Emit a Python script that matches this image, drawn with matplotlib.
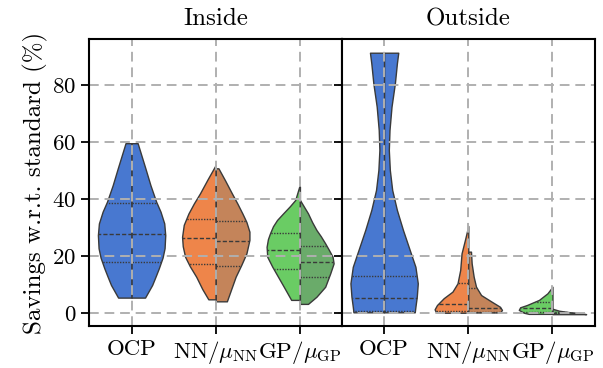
import numpy as np
import matplotlib
matplotlib.use("Agg")
import matplotlib.pyplot as plt

plt.rcParams['font.family'] = ['cmr10', 'DejaVu Serif']
plt.rcParams['mathtext.fontset'] = 'cm'
plt.rcParams['axes.unicode_minus'] = False
plt.rcParams['axes.formatter.use_mathtext'] = True

panels = ["Inside", "Outside"]
methods = ["OCP", r"NN/$\mu_{\mathrm{NN}}$", r"GP/$\mu_{\mathrm{GP}}$"]
ylabel = "Savings w.r.t. standard (%)"
yticks = [0, 20, 40, 60, 80]

# ---- violin outlines: value levels and relative half-widths ----
# Inside
in_ocp_y = [5.5, 7.6, 9.9, 12.8, 15.8, 19.5, 22.8, 27.4, 31.5, 35.6, 39.1, 44.9, 50.8, 59.6]
in_ocp_w = [0.40, 0.50, 0.61, 0.71, 0.81, 0.92, 0.98, 1.0, 0.97, 0.86, 0.73, 0.56, 0.41, 0.18]
in_ocp_q = [17.9, 27.8, 38.8]

in_nn_left_y = [4.9, 8.5, 12.8, 16.5, 19.8, 23.5, 26.8, 31.0, 35.0, 38.5, 42.0, 47.0, 52.0]
in_nn_left_w = [0.22, 0.40, 0.58, 0.77, 0.91, 0.98, 1.0, 0.95, 0.81, 0.65, 0.47, 0.24, 0.0]
in_nn_left_q = [17.3, 26.3, 33.0]
in_nn_right_y = [4.2, 8.5, 12.8, 17.0, 21.0, 25.7, 28.6, 32.0, 35.0, 38.5, 42.0, 46.5, 50.8]
in_nn_right_w = [0.33, 0.46, 0.59, 0.76, 0.91, 1.0, 1.0, 0.91, 0.79, 0.64, 0.48, 0.28, 0.08]
in_nn_right_q = [16.6, 25.4, 32.3]

in_gp_left_y = [4.7, 9.3, 12.8, 16.3, 19.8, 23.3, 26.0, 28.0, 30.5, 32.7, 35.0, 37.5, 39.7, 44.4]
in_gp_left_w = [0.26, 0.48, 0.65, 0.82, 0.97, 0.99, 0.95, 0.89, 0.80, 0.68, 0.50, 0.30, 0.14, 0.02]
in_gp_left_q = [15.4, 22.2, 28.2]
in_gp_right_y = [3.3, 5.8, 9.3, 14.0, 17.5, 19.8, 22.0, 24.5, 27.0, 29.2, 32.0, 35.0, 39.7]
in_gp_right_w = [0.24, 0.49, 0.75, 0.90, 1.0, 0.97, 0.87, 0.75, 0.62, 0.49, 0.36, 0.24, 0.0]
in_gp_right_q = [12.6, 18.1, 23.7]

# Outside
out_ocp_y = [0.35, 2.3, 5.8, 10.5, 16.3, 22.2, 29.2, 36.2, 43.2, 50.2, 57.2, 64.2, 72.4, 80.6, 87.6, 91.3]
out_ocp_w = [0.91, 0.93, 0.97, 1.0, 0.93, 0.76, 0.56, 0.38, 0.24, 0.17, 0.14, 0.16, 0.22, 0.32, 0.38, 0.42]
out_ocp_q = [0.8, 5.5, 13.2]

out_nn_left_y = [0.2, 0.6, 1.4, 2.9, 5.3, 7.6, 10.5, 15.2, 21.0, 25.7, 30.6]
out_nn_left_w = [0.93, 0.97, 1.0, 0.93, 0.73, 0.47, 0.32, 0.24, 0.20, 0.10, 0.0]
out_nn_left_q = [0.9, 3.3, 10.7]
out_nn_right_y = [0.3, 1.2, 2.3, 4.1, 6.4, 9.3, 12.8, 17.5, 21.6]
out_nn_right_w = [0.95, 1.0, 0.94, 0.69, 0.38, 0.23, 0.16, 0.10, 0.08]
out_nn_right_q = [0.6, 1.7, 9.0]

out_gp_left_y = [-0.2, 0.2, 1.2, 2.1, 2.9, 4.7, 7.0, 9.3]
out_gp_left_w = [0.70, 0.85, 1.0, 0.96, 0.76, 0.40, 0.15, 0.0]
out_gp_left_q = [0.3, 1.7, 4.1]
out_gp_right_y = [-0.3, 0.0, 0.4, 0.9, 1.6]
out_gp_right_w = [1.0, 0.85, 0.5, 0.2, 0.0]
out_gp_right_q = [0.05, 0.2, 0.5]

left_colors = ["#4878d0", "#ee854a", "#6acc64"]
right_colors = ["#4878d0", "#c4845a", "#6aab6a"]

data = {
    "Inside": [
        ((in_ocp_y, in_ocp_w, in_ocp_q), (in_ocp_y, in_ocp_w, in_ocp_q)),
        ((in_nn_left_y, in_nn_left_w, in_nn_left_q), (in_nn_right_y, in_nn_right_w, in_nn_right_q)),
        ((in_gp_left_y, in_gp_left_w, in_gp_left_q), (in_gp_right_y, in_gp_right_w, in_gp_right_q)),
    ],
    "Outside": [
        ((out_ocp_y, out_ocp_w, out_ocp_q), (out_ocp_y, out_ocp_w, out_ocp_q)),
        ((out_nn_left_y, out_nn_left_w, out_nn_left_q), (out_nn_right_y, out_nn_right_w, out_nn_right_q)),
        ((out_gp_left_y, out_gp_left_w, out_gp_left_q), (out_gp_right_y, out_gp_right_w, out_gp_right_q)),
    ],
}

HALF = 0.4
EDGE = "#3a3a3a"

fig, axes = plt.subplots(1, 2, figsize=(6.03, 3.68), dpi=100, sharey=True)
fig.subplots_adjust(left=0.1484, right=0.986, bottom=0.1141, top=0.8932, wspace=0)

for ax, panel in zip(axes, panels):
    for i, (lhalf, rhalf) in enumerate(data[panel]):
        for side, (ys, ws, qs), col in ((-1, lhalf, left_colors[i]), (1, rhalf, right_colors[i])):
            ys = np.asarray(ys, float)
            ws = np.asarray(ws, float)
            ax.fill_betweenx(ys, i, i + side * HALF * ws, facecolor=col,
                             edgecolor=EDGE, linewidth=1.0, zorder=1)
            for k, q in enumerate(qs):
                wq = np.interp(q, ys, ws)
                ax.plot([i, i + side * HALF * wq], [q, q], color=EDGE,
                        linewidth=1.0, linestyle=(0, (3, 1.5)) if k == 1 else (0, (1, 1)),
                        zorder=2)
    ax.set_xlim(-0.5, 2.5)
    ax.set_ylim(-4.45, 96.0)
    ax.set_xticks(range(len(methods)))
    ax.set_xticklabels(methods)
    ax.set_yticks(yticks)
    ax.set_title(panel, fontsize=18, pad=10)
    ax.set_axisbelow(False)
    ax.grid(True, color="#b0b0b0", linewidth=1.4, linestyle=(0, (5, 3)))
    ax.tick_params(axis="both", labelsize=16.5, length=6, width=1.3, direction="out")
    for s in ax.spines.values():
        s.set_linewidth(1.5)
        s.set_color("black")
        s.set_zorder(3)

axes[1].tick_params(axis="y", labelleft=False)
axes[0].set_ylabel(ylabel, fontsize=18, labelpad=3)

fig.savefig("out.png", dpi=100)
